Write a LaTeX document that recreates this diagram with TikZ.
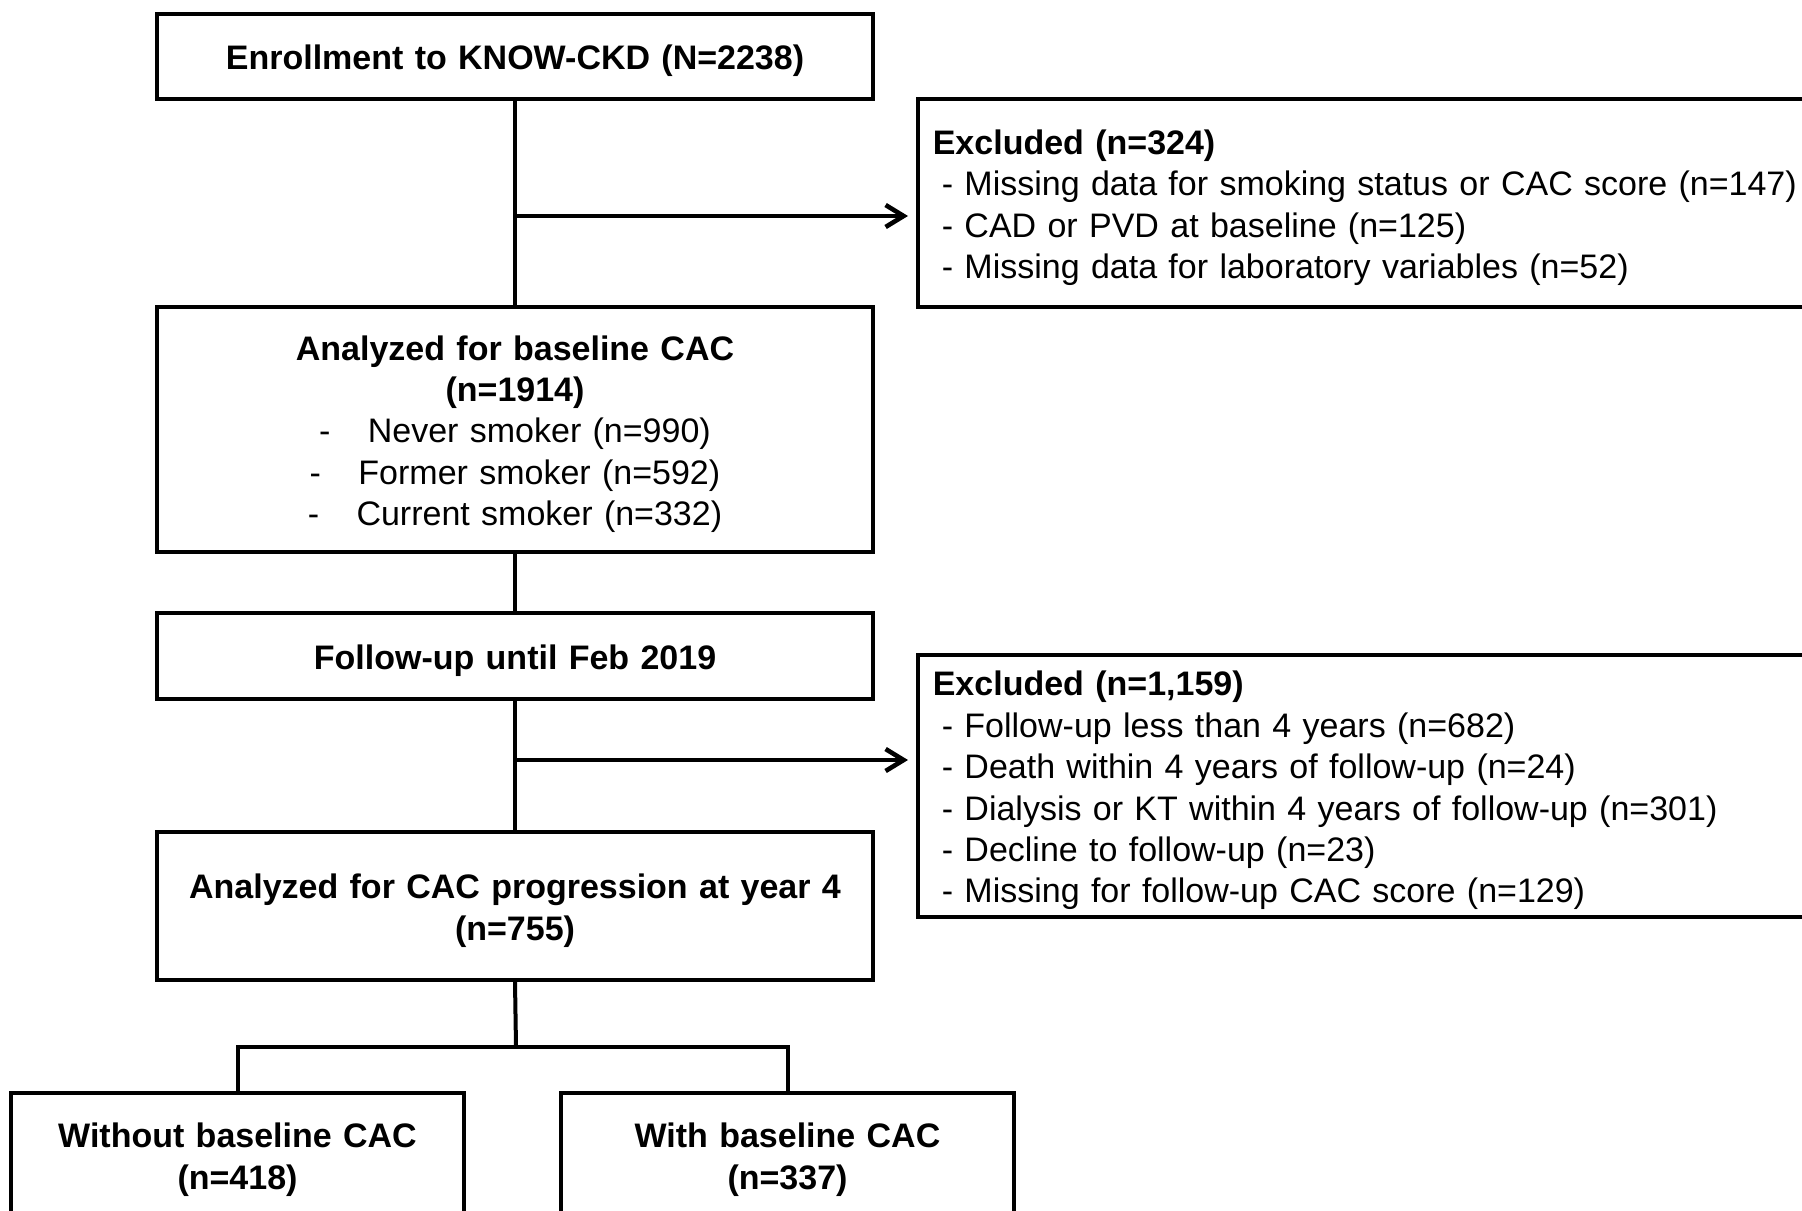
\documentclass[tikz,border=0pt]{standalone}
\usepackage{fontspec}
\setmainfont{Liberation Sans}
\usetikzlibrary{arrows.meta}

\newlength{\du}
\setlength{\du}{0.5pt}

\definecolor{dialinecolor}{rgb}{0.000000, 0.000000, 0.000000}

\tikzset{
  flowbox/.style={draw=dialinecolor, fill=white, line width=2pt, inner sep=0pt,
    align=center, text width=690\du, font=\fontsize{17}{20.7}\selectfont,
    execute at begin node={\rule{0pt}{17pt}},
    execute at end node={\rule[-3.6pt]{0pt}{0pt}}},
  groupbox/.style={flowbox, text width=430\du},
  exclbox/.style={flowbox, align=left, anchor=west, inner xsep=7.4pt,
    text width=1000\du},
  flowline/.style={draw=dialinecolor, line width=2pt},
  flowarrow/.style={flowline, -{Straight Barb[length=9pt, width=11pt, line width=0pt 1.15]},
    shorten >=4pt},
}

\begin{document}
\begin{tikzpicture}
\pgftransformxscale{1.000000}
\pgftransformyscale{-1.000000}
\useasboundingbox (0\du,0\du) rectangle (1802\du,1210\du);
\clip (0\du,0\du) rectangle (1802\du,1210\du);
\fill[white] (0\du,0\du) rectangle (1802\du,1210\du);
% boxes of the main column
\node[flowbox, minimum width=716\du, minimum height=85\du] (enroll) at (515\du,56.5\du)
  {\textbf{Enrollment to KNOW-CKD (N=2238)}};
\node[flowbox, minimum width=716\du, minimum height=245\du] (baseline) at (515\du,429.5\du)
  {\textbf{Analyzed for baseline CAC}\\
   \textbf{(n=1914)}\\
   -\hspace{1.1em}Never smoker (n=990)\\
   -\hspace{1.1em}Former smoker (n=592)\\
   -\hspace{1.1em}Current smoker (n=332)};
\node[flowbox, minimum width=716\du, minimum height=86\du] (followup) at (515\du,656\du)
  {\textbf{Follow-up until Feb 2019}};
\node[flowbox, minimum width=716\du, minimum height=148\du] (progress) at (515\du,906\du)
  {\textbf{Analyzed for CAC progression at year 4}\\
   \textbf{(n=755)}};
% exclusions
\node[exclbox, minimum height=208\du] (exclone) at (916\du,203\du)
  {\textbf{Excluded (n=324)}\\
   \hspace*{4.5pt}- Missing data for smoking status or CAC score (n=147)\\
   \hspace*{4.5pt}- CAD or PVD at baseline (n=125)\\
   \hspace*{4.5pt}- Missing data for laboratory variables (n=52)};
\node[exclbox, minimum height=262\du] (excltwo) at (916\du,786\du)
  {\textbf{Excluded (n=1,159)}\\
   \hspace*{4.5pt}- Follow-up less than 4 years (n=682)\\
   \hspace*{4.5pt}- Death within 4 years of follow-up (n=24)\\
   \hspace*{4.5pt}- Dialysis or KT within 4 years of follow-up (n=301)\\
   \hspace*{4.5pt}- Decline to follow-up (n=23)\\
   \hspace*{4.5pt}- Missing for follow-up CAC score (n=129)};
% groups
\node[groupbox, minimum width=453\du, minimum height=124\du] (without) at (237.5\du,1155\du)
  {\textbf{Without baseline CAC}\\
   \textbf{(n=418)}};
\node[groupbox, minimum width=453\du, minimum height=124\du] (with) at (787.5\du,1155\du)
  {\textbf{With baseline CAC}\\
   \textbf{(n=337)}};
% connectors
\coordinate (jone) at (516\du,216\du);
\coordinate (jtwo) at (516\du,760\du);
\coordinate (jthree) at (516\du,1047\du);
\draw[flowline] (enroll.south) -- (baseline.north);
\draw[flowarrow] (jone) -- (jone -| exclone.west);
\draw[flowline] (baseline.south) -- (followup.north);
\draw[flowline] (followup.south) -- (progress.north);
\draw[flowarrow] (jtwo) -- (jtwo -| excltwo.west);
\draw[flowline] (progress.south) -- (jthree);
\draw[flowline] (without.north) |- (jthree) -| (with.north);
\end{tikzpicture}
\end{document}
